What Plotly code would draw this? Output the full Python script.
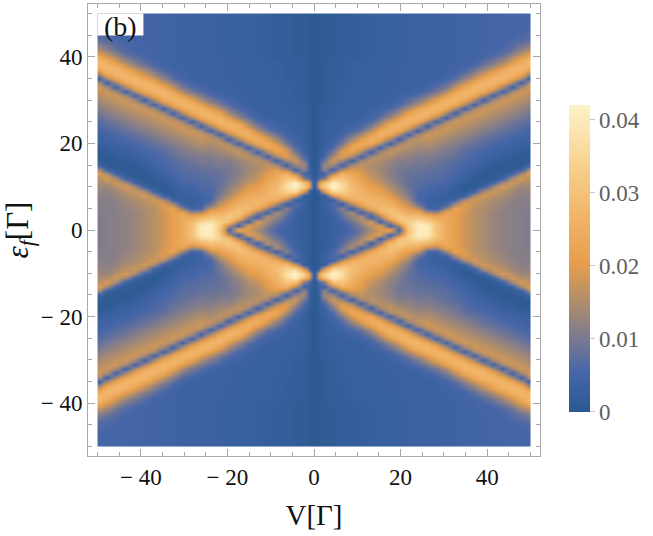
import numpy as np
import plotly.graph_objects as go

# Bias values (columns) and level positions (rows) for the V >= 0, ef >= 0 quadrant.
bias = [0, 1, 2.2, 4.3, 6.5, 8.7, 10.9, 13, 15.2, 17.4, 19.6, 21.7, 23.9, 26.1, 28.3, 30.4, 32.6, 34.8, 37, 39.1, 41.3, 43.5, 45.7, 47.8, 50]
level = list(range(0, 51))

# Intensity in units of 1e-3, one list per bias value, ordered by level 0..50.
i_v00_0 = [.5,.5,.5,.5,.5,.5,.5,.5,.3,.3, .3,.5,.5,.5,.5,.5,.5,.5,.5,.5, .5,.5,.5,.5,.5,.5,.5,.5,.5,.5, .5,.5,.5,.5,.5,.5,.5,.5,.5,.5, .5,.5,.5,.5,.5,.5,.5,.5,.5,.5,.5]
i_v01_0 = [1.5,1.5,1.5,1.5,1.5,1.5,1.5,1.5,.8,3, 20,18,5,3.5,3,2.5,2,2,1.5,1.5, 1.5,1.5,1.5,1.5,1.5,1.5,1.5,1.5,1.5,1.5, 1,1,1,1,1,1,1,1,1,1, 1,1,1,1,1,1,1,1,1,1,1]
i_v02_2 = [2,2,2,2,2,2.5,3,3,2,20, 34,30,10,5,12,14,10,6,4.5,3.5, 3,2.5,2.5,2.5,2.5,2,2,2,2,2, 1.5,1.5,1.5,1.5,1.5,1.5,1.5,1.5,1.5,1.5, 1.5,1.5,1.5,1.5,1.5,1.5,1.5,1.5,1.5,1.5,1.5]
i_v04_3 = [3,3,3,3.5,4,5,7,3.5,18,36, 42,41,30,15,4,13,18,15,10,6.5, 5,4,3.5,3,3,2.5,2.5,2.5,2.5,2.5, 2,2,2,2,2,2,2,2,2,2, 1.5,1.5,1.5,1.5,1.5,1.5,1.5,1.5,1.5,1.5,1.5]
i_v06_5 = [4,4.5,5.5,7,9,12,3.5,16,28,34, 37,35,31,26,15,4,13,20,20,15, 10,7,5,4,3.5,3,3,3,2.5,2.5, 2.5,2.5,2.5,2.5,2.5,2,2,2,2,2, 2,2,2,2,2,2,2,2,2,2,2]
i_v08_7 = [6,7,9,12,15,3.5,14,25,28,29, 28,27,25,23,20,14,4,14,21,23, 19,13,9,6,4.5,3.5,3,3,3,3, 2.5,2.5,2.5,2.5,2.5,2.5,2.5,2.5,2.5,2.5, 2,2,2,2,2,2,2,2,2,2,2]
i_v10_9 = [9,11,14,16,4,12,23,27,27,26, 25,23,21,20,18,17,14,4,14,22, 24,20,14,9,6,4.5,3.5,3,3,3, 3,3,3,2.5,2.5,2.5,2.5,2.5,2.5,2.5, 2.2,2.2,2.2,2.2,2.2,2.2,2.2,2.2,2.2,2.2,2.2]
i_v13_0 = [14,17,19,4,11,23,27,27,25,23, 21,19,17,16,15,15,16,14,4,14, 23,25,21,15,10,6.5,5,4,3.5,3, 3,3,3,3,3,3,3,3,3,3, 2.5,2.5,2.5,2.5,2.5,2.5,2.5,2.5,2.5,2.5,2.5]
i_v15_2 = [19,20,4,12,24,28,27,26,24,21, 19,17,15,14,13.5,14,15,16,14,4, 14,23,26,24,17,12,8,5.5,4.5,3.5, 3.5,3,3,3,3,3,3,3,3,3, 2.5,2.5,2.5,2.5,2.5,2.5,2.5,2.5,2.5,2.5,2.5]
i_v17_4 = [23,4,13,27,30,29,26,23,20,17, 15,13,12,11.5,11.5,12,13,15,17,14, 4,14,23,26,25,19,13,9,6,4.5, 4,3.5,3.5,3,3,3,3,3,3,3, 3,3,3,3,3,3,3,3,3,3,3]
i_v19_6 = [4,14,29,32,29,25,21,18,15,13, 11.5,10.5,10,9.5,9.5,10,11,12.5,14.5,17, 14,4,14,23,27,25,20,14,9.5,6.5, 5,4,3.5,3.5,3.5,3.2,3.2,3.2,3.2,3.2, 3,3,3,3,3,3,3,3,3,3,3]
i_v21_7 = [30,32,33,30,25,21,17,13,10.5,9.5, 8.5,8,8,8.5,9,10,11,12,13.5,15, 17,14,4,14,23,27,26,21,15,10, 7,5,4,3.5,3.5,3.5,3.5,3.5,3.5,3.5, 3.2,3.2,3.2,3.2,3.2,3.2,3.2,3.2,3.2,3.2,3.2]
i_v23_9 = [40,41,37,30,24,17,9,6,5.5,6, 6.5,7,7.5,8,8.5,9,10,11,12,13.5, 14.5,17,14,4,14,23,27,26,21,15, 10,7,5,4,3.5,3.5,3.5,3.5,3.5,3.5, 3.5,3.5,3.5,3.5,3.5,3.5,3.5,3.5,3.5,3.5,3.5]
i_v26_1 = [40,40,35,27,16,6,4,4,4.5,5.5, 6,6.5,7,7.5,8,9,10,10.5,12,14, 15.5,17,18,14,4,14,23,27,26,21, 15,10,7,5,4,3.5,3.5,3.5,3.5,3.5, 3.5,3.5,3.5,3.5,3.5,3.5,3.5,3.5,3.5,3.5,3.5]
i_v28_3 = [30,30,28,24,14,4.5,3,3,3.5,4.5, 5,6,6.5,7,7.5,8,9,10,11,12.5, 14,15.5,17,18,14,4,14,23,27,26, 21,15,10,7,5,4,3.5,3.5,3.5,3.5, 3.6,3.6,3.6,3.6,3.6,3.6,3.6,3.6,3.6,3.6,3.6]
i_v30_4 = [24,24,24,24,22,13,4,2.5,2.5,3.5, 4.5,5.5,6,6.5,7,7.5,8,9,10,11, 12.5,14,15.5,17,18,14,4,14,23,27, 26,21,15,10,7,5,4.5,4,4,3.8, 3.8,3.8,3.8,3.8,3.8,3.8,3.8,3.8,3.8,3.8,3.8]
i_v32_6 = [21,21,21,21,21,22,14,4,2,2, 2.5,3.5,4.5,5.5,6,6.5,7,8,9,10, 11,12.5,14,15.5,17,18,14,4,14,23, 27,26,22,16,11,7.5,5.5,4.5,4.2,4, 4,4,4,4,4,4,4,4,4,4,4]
i_v34_8 = [18,18,18,18,18.5,19,20,14,4,1.5, 1,2,3,4,4.5,5.5,6,6.5,7,8, 9.5,11,12.5,14,15.5,17,18,14,4,14, 23,27,27,23,17,12,8.5,6,5,4.5, 4.2,4.2,4.2,4.2,4.2,4.2,4.2,4.2,4.2,4.2,4.2]
i_v37_0 = [16,16,16,16,16,16,17,19,14,4, 1.5,1,1.5,2.5,3.5,4.5,5,5.5,6,7, 8,9.5,11,12.5,14,15.5,17,18,14,4, 14,23,27,27,23,18,12.5,9,6.5,5, 4.5,4.4,4.4,4.4,4.4,4.4,4.4,4.4,4.4,4.4,4.4]
i_v39_1 = [14.5,14.5,14.5,14.5,14.5,15,15.5,16,19,14, 4,1.5,1,1,1.5,2.5,3.5,4.5,5,6, 7,8,9.5,11,12.5,14,15.5,17,18,14, 4,14,23,27,27,23,18,13,9.5,7, 5.5,5,4.8,4.6,4.6,4.6,4.6,4.6,4.6,4.6,4.6]
i_v41_3 = [13,13,13,13,13,13.5,14,14.5,16,18, 14,4,1.5,1,1,1.5,2.5,3.5,4,5, 6,7,8,9.5,11,12.5,14,15.5,17,18, 14,4,14,23,27,27,23,18,13,9.5, 7,5.5,5,4.8,4.8,4.8,4.8,4.8,4.8,4.8,4.8]
i_v43_5 = [12,12,12,12,12,12.5,13,13.5,14.5,16, 19,14,4,1.5,1,1,1.5,2.5,3,4, 5,6,7,8,9.5,11,12.5,14,15.5,17, 18,14,4,14,23,27,27,23,18,13, 9.5,7,6,5.2,5,4.8,4.8,4.8,4.8,4.8,4.8]
i_v45_7 = [11.5,11.5,11.5,11.5,11.5,11.5,11.5,12,12.5,13.5, 15.5,18.5,14,4,1.5,1,1,1.5,2.5,3.5, 4,5,6,7,8,9.5,11,12.5,14,15.5, 17,18,14,4,14,23,27,27,24,18.5, 14,10,7.5,6.5,5.8,5.2,5,5,5,5,5]
i_v47_8 = [11,11,11,11,11,11,11,11,11.5,12, 13,15,19,14,4,1.5,1,1,1.5,2.5, 3.5,4,5,6,7,8,9.5,11,12.5,14, 15.5,17,18,14,4,14,23,27,27,24, 19,14.5,11,8,6.5,6,5.5,5.2,5,5,5]
i_v50_0 = [10.5,10.5,10.5,10.5,10.5,11,11,11.5,12,12.5, 13.5,14.5,16,19.5,14,4,1.5,.8,1,2, 3,3.5,4,5,6,7,8,9.5,11,12.5, 14,15.5,17,18,14,4,14,23,27,27, 23,18,13,10,7.5,6.5,6,5.5,5,5,5]

x_ticks = [-40, -20, 0, 20, 40]
x_labels = ["\u2212 40", "\u2212 20", "0", "20", "40"]
y_ticks = [-40, -20, 0, 20, 40]
y_labels = ["\u2212 40", "\u2212 20", "0", "20", "40"]
bar_ticks = [0, 0.01, 0.02, 0.03, 0.04]
bar_labels = ["0", "0.01", "0.02", "0.03", "0.04"]

quadrant = np.array([
    i_v00_0, i_v01_0, i_v02_2, i_v04_3, i_v06_5, i_v08_7, i_v10_9, i_v13_0, i_v15_2, i_v17_4, i_v19_6, i_v21_7,
    i_v23_9, i_v26_1, i_v28_3, i_v30_4, i_v32_6, i_v34_8, i_v37_0, i_v39_1, i_v41_3, i_v43_5, i_v45_7, i_v47_8, i_v50_0,
], dtype=float).T * 1e-3

# The map is even in both V and ef, so the other three quadrants are reflections.
upper = np.hstack([quadrant[:, :0:-1], quadrant])
full = np.vstack([upper[:0:-1], upper])


def cell_edges(half):
    centers = np.concatenate([-np.array(half[:0:-1], dtype=float), np.array(half, dtype=float)])
    inner = (centers[:-1] + centers[1:]) / 2
    return np.concatenate([[centers[0]], inner, [centers[-1]]])


colors = [
    [0.00, "#29588f"],
    [0.06, "#37609d"],
    [0.13, "#4766a8"],
    [0.24, "#7b7a90"],
    [0.36, "#b08e6c"],
    [0.48, "#e59d4c"],
    [0.62, "#f0b266"],
    [0.76, "#f6c981"],
    [0.90, "#fbe2ac"],
    [1.00, "#fef2c8"],
]

frame = "#a8a8a8"
fig = go.Figure(
    go.Heatmap(
        x=cell_edges(bias),
        y=cell_edges(level),
        z=full,
        zsmooth="best",
        zmin=0,
        zmax=0.042,
        colorscale=colors,
        colorbar=dict(
            lenmode="pixels",
            len=307,
            thickness=21,
            thicknessmode="pixels",
            x=1.064,
            xanchor="left",
            xpad=0,
            y=0.437,
            yanchor="middle",
            ypad=0,
            outlinewidth=0,
            tickmode="array",
            tickvals=bar_ticks,
            ticktext=bar_labels,
            ticks="outside",
            ticklen=5,
            tickcolor="#c8c8c8",
            tickfont=dict(family="Liberation Serif", size=23, color="#606060"),
        ),
    )
)

axis_common = dict(
    range=[-52.2, 52.2],
    tickmode="array",
    ticks="inside",
    ticklen=7,
    tickwidth=1,
    tickcolor=frame,
    showline=True,
    linecolor=frame,
    linewidth=1,
    mirror="allticks",
    showgrid=False,
    zeroline=False,
    tickfont=dict(family="Liberation Serif", size=23, color="#111111"),
    minor=dict(dtick=5, tick0=0, ticks="inside", ticklen=4, tickcolor=frame, showgrid=False),
)

fig.update_layout(
    width=653,
    height=536,
    autosize=False,
    margin=dict(l=88, r=113, t=4, b=80),
    paper_bgcolor="white",
    plot_bgcolor="white",
    font=dict(family="Liberation Serif"),
    xaxis=dict(
        axis_common,
        tickvals=x_ticks,
        ticktext=x_labels,
        title=dict(text="V[\u0393]", font=dict(size=29, color="#111111"), standoff=16),
    ),
    yaxis=dict(
        axis_common,
        tickvals=y_ticks,
        ticktext=y_labels,
        title=dict(text="<i>\u03b5<sub>f</sub></i>[\u0393]", font=dict(size=31, color="#111111"), standoff=14),
    ),
    shapes=[
        # White plate behind the panel tag.
        dict(type="rect", xref="x", yref="y", x0=-50, x1=-39.4, y0=44.9, y1=50,
             fillcolor="white", line=dict(width=0), layer="above"),
    ],
    annotations=[
        dict(
            x=-44.7,
            y=47.1,
            xref="x",
            yref="y",
            xanchor="center",
            yanchor="middle",
            text="(b)",
            showarrow=False,
            font=dict(family="Liberation Serif", size=28, color="#111111"),
        )
    ],
)

fig.write_html("out.html")
